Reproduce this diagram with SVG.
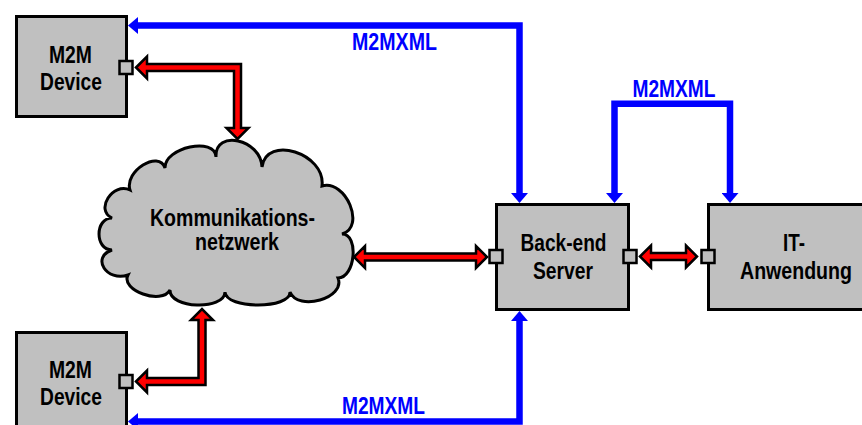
<svg xmlns="http://www.w3.org/2000/svg" width="862" height="425" viewBox="0 0 862 425">
  <style>
    .box { fill: #c0c0c0; stroke: #000; stroke-width: 3; }
    .port { fill: #c0c0c0; stroke: #000; stroke-width: 2.5; }
    .lbl { font-family: "Liberation Sans", Arial, sans-serif; font-weight: bold; font-size: 23px; fill: #000; text-anchor: middle; }
    .xml { font-family: "Liberation Sans", Arial, sans-serif; font-weight: bold; font-size: 23px; fill: #0000ff; text-anchor: middle; }
    .msg { fill: none; stroke: #0000ff; stroke-width: 6.5; stroke-linejoin: miter; }
    .link { fill: #ff0000; stroke: #000; stroke-width: 2.5; stroke-linejoin: miter; }
  </style>
  <defs>
    <marker id="blueHead" viewBox="0 0 10 17" markerUnits="userSpaceOnUse" markerWidth="10" markerHeight="17" refX="0" refY="8.5" orient="auto-start-reverse">
      <path d="M0,0 L10,8.5 L0,17 z" fill="#0000ff"/>
    </marker>
  </defs>

  <rect width="862" height="425" fill="#fff"/>

  <!-- connectors -->
  <g id="connectors">
    <!-- M2MXML message paths -->
    <path class="msg" d="M519.5,193 V25.5 H138" marker-start="url(#blueHead)" marker-end="url(#blueHead)"/>
    <path class="msg" d="M614.5,193 V103.7 H730 V193" marker-start="url(#blueHead)" marker-end="url(#blueHead)"/>
    <path class="msg" d="M519.5,321 V421.5 H138" marker-start="url(#blueHead)" marker-end="url(#blueHead)"/>

    <!-- physical links -->
    <polygon class="link" points="136,67.5 147,56.5 147,64 241,64 241,128 248.5,128 237.5,139 226.5,128 234,128 234,71 147,71 147,78.5"/>
    <polygon class="link" points="136,381.5 147,370.5 147,378 198.5,378 198.5,320 191,320 202,309 213,320 205.5,320 205.5,385 147,385 147,392.5"/>
    <polygon class="link" points="354,257 365,246 365,253.5 476,253.5 476,246 487,257 476,268 476,260.5 365,260.5 365,268"/>
    <polygon class="link" points="640,256.5 651,245.5 651,253 686,253 686,245.5 697,256.5 686,267.5 686,260 651,260 651,267.5"/>

    <text class="xml" x="394.5" y="50" textLength="85" lengthAdjust="spacingAndGlyphs">M2MXML</text>
    <text class="xml" x="674" y="97" textLength="83" lengthAdjust="spacingAndGlyphs">M2MXML</text>
    <text class="xml" x="383.5" y="414" textLength="83" lengthAdjust="spacingAndGlyphs">M2MXML</text>
  </g>

  <!-- devices -->
  <g id="device-top">
    <rect class="box" x="16.5" y="16.5" width="110" height="100"/>
    <rect class="port" x="119.5" y="61" width="13" height="13"/>
    <text class="lbl" x="70.5" y="62.5" textLength="43" lengthAdjust="spacingAndGlyphs">M2M</text>
    <text class="lbl" x="71" y="90" textLength="62" lengthAdjust="spacingAndGlyphs">Device</text>
  </g>

  <g id="device-bottom">
    <rect class="box" x="16.5" y="332.5" width="110" height="110"/>
    <rect class="port" x="119.5" y="375" width="13" height="13"/>
    <text class="lbl" x="70.5" y="378" textLength="43" lengthAdjust="spacingAndGlyphs">M2M</text>
    <text class="lbl" x="71" y="405" textLength="62" lengthAdjust="spacingAndGlyphs">Device</text>
  </g>

  <!-- network cloud -->
  <g id="network">
    <path class="box" d="M130,190
      C124,171.3 159,149.3 165,168
      C164.3,147.3 215.3,136.3 216,157
      C214.7,129 260.7,139 262,167
      C266,134.3 326,153.3 322,186
      C346,179.3 366,227.3 342,234
      C359.3,234 355.3,278 338,278
      C346,298 298,312 290,292
      C290.7,309.3 225.7,309.3 225,292
      C224.3,310.7 169.3,308.7 170,290
      C162,305.3 120,290.3 128,275
      C106.7,282.3 90.7,257.3 112,250
      C94.7,250 94.7,218 112,218
      C94.7,210 112.7,182 130,190 z"/>
    <text class="lbl" x="232.5" y="226" textLength="165" lengthAdjust="spacingAndGlyphs">Kommunikations-</text>
    <text class="lbl" x="237" y="250" textLength="84" lengthAdjust="spacingAndGlyphs">netzwerk</text>
  </g>

  <g id="backend-server">
    <rect class="box" x="496.5" y="204.5" width="132" height="105"/>
    <rect class="port" x="489.5" y="250" width="13" height="13"/>
    <rect class="port" x="623.5" y="250" width="13" height="13"/>
    <text class="lbl" x="563.5" y="251" textLength="86" lengthAdjust="spacingAndGlyphs">Back-end</text>
    <text class="lbl" x="563" y="279" textLength="60" lengthAdjust="spacingAndGlyphs">Server</text>
  </g>

  <g id="it-application">
    <rect class="box" x="708.5" y="204.5" width="170" height="105"/>
    <rect class="port" x="701.5" y="250" width="13" height="13"/>
    <text class="lbl" x="794" y="251" textLength="22" lengthAdjust="spacingAndGlyphs">IT-</text>
    <text class="lbl" x="796" y="279" textLength="112" lengthAdjust="spacingAndGlyphs">Anwendung</text>
  </g>
</svg>
